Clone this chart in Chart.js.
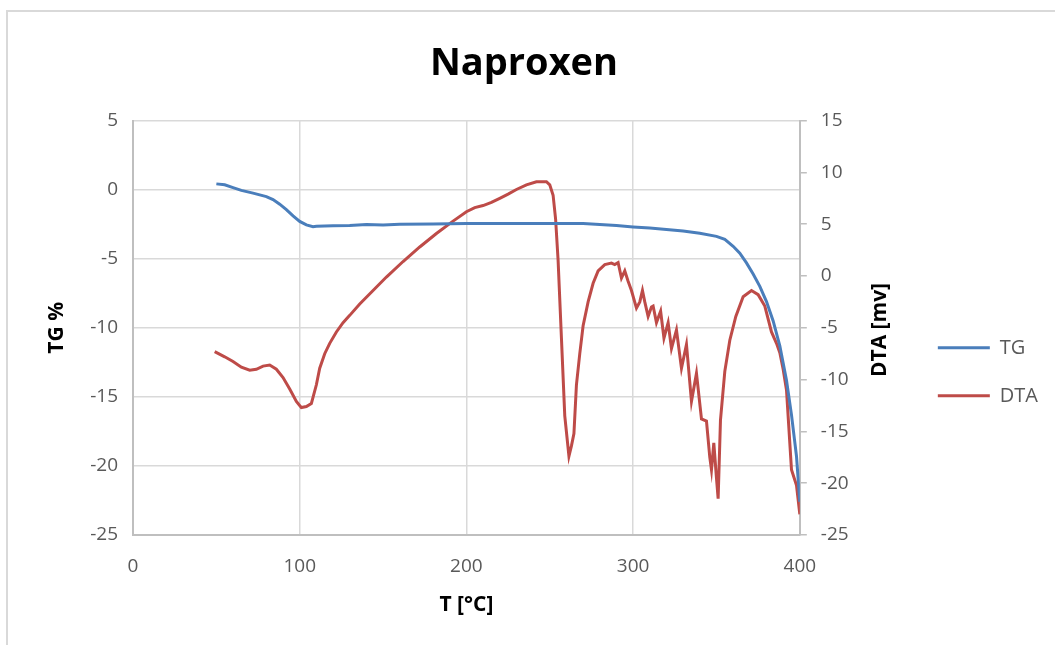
<!DOCTYPE html>
<html>
<head>
<meta charset="utf-8">
<script src="https://cdn.jsdelivr.net/npm/chart.js@4.4.1/dist/chart.umd.min.js"></script>
<style>
  html, body { margin: 0; padding: 0; background: #fff; overflow: hidden; }
  #wrap { position: relative; width: 1055px; height: 645px; }
  #frame { position: absolute; left: 6px; top: 10px; width: 1200px; height: 800px;
           border-left: 2px solid #d9d9d9; border-top: 2px solid #d9d9d9; pointer-events: none; }
</style>
</head>
<body>
<div id="wrap">
  <canvas id="chart"></canvas>
  <div id="frame"></div>
</div>
<script>
// TG curve (left axis, %)
const tgTemp = [50, 55, 60, 65, 72, 80, 84, 88, 92, 96, 100, 104, 108, 110, 120, 130, 140, 150, 160, 180, 200, 220, 250, 270, 280, 290, 300, 310, 320, 330, 340, 350, 355, 360, 364, 368, 372, 376, 380, 384, 388, 392, 395, 398, 400];
const tgValue = [0.42, 0.35, 0.15, -0.05, -0.25, -0.5, -0.72, -1.05, -1.45, -1.9, -2.3, -2.55, -2.68, -2.65, -2.62, -2.6, -2.52, -2.55, -2.5, -2.48, -2.45, -2.45, -2.45, -2.45, -2.52, -2.6, -2.7, -2.78, -2.88, -3.0, -3.15, -3.38, -3.6, -4.1, -4.6, -5.3, -6.1, -7.0, -8.1, -9.5, -11.3, -13.8, -16.3, -19.3, -22.6];

// DTA curve (right axis, mV)
const dtaTemp = [49, 55, 60, 65, 70, 74, 78, 82, 86, 90, 94, 98, 101, 104, 107, 110, 112, 115, 118, 122, 126, 130, 136, 144, 152, 162, 172, 182, 192, 200, 205, 210, 215, 220, 225, 230, 236, 242, 248, 250, 252, 253.5, 255, 257, 259, 261.5, 263, 264.5, 266, 268, 270, 273, 276, 279, 283, 287, 289, 291, 293, 295, 297, 299, 302, 304, 305.6, 307, 309, 311, 312, 314, 316.5, 318.5, 321, 323, 326, 329, 332, 335, 338, 341, 344, 346, 347, 348.4, 350, 351, 352.4, 355, 358, 361.6, 366, 371, 375, 379, 383, 386, 388, 390, 392, 395, 398, 400];
const dtaValue = [-7.3, -7.8, -8.25, -8.8, -9.1, -9.0, -8.7, -8.6, -9.0, -9.8, -10.9, -12.1, -12.7, -12.6, -12.3, -10.5, -8.9, -7.5, -6.5, -5.4, -4.5, -3.8, -2.7, -1.4, -0.1, 1.4, 2.8, 4.1, 5.3, 6.2, 6.6, 6.8, 7.1, 7.5, 7.9, 8.35, 8.8, 9.1, 9.1, 8.8, 7.8, 5.5, 1.5, -6.0, -13.5, -17.4, -16.4, -15.2, -10.5, -7.5, -4.8, -2.5, -0.7, 0.5, 1.1, 1.25, 1.1, 1.3, -0.2, 0.5, -0.5, -1.4, -3.1, -2.5, -1.4, -2.5, -3.9, -3.0, -2.9, -4.5, -3.4, -6.0, -4.5, -7.0, -5.2, -8.9, -6.6, -12.1, -9.4, -13.8, -14.0, -17.5, -18.7, -16.1, -19.5, -21.5, -13.9, -9.2, -6.2, -3.9, -2.0, -1.4, -1.8, -2.9, -5.4, -6.5, -7.4, -9.0, -11.0, -18.7, -20.2, -23.0];

const xTicks = [0, 100, 200, 300, 400];

const tickColor = '#595959';
const gridColor = '#d9d9d9';
const axisColor = '#bfbfbf';
const fontFamily = '"Open Sans", "DejaVu Sans", sans-serif';

// right axis title reads bottom-to-top like the left one
const rightTitle = {
  id: 'rightTitle',
  afterDraw(chart) {
    const ctx = chart.ctx;
    ctx.save();
    ctx.translate(880, 330);
    ctx.rotate(-Math.PI / 2);
    ctx.font = 'bold 21px ' + fontFamily;
    ctx.fillStyle = '#000';
    ctx.textAlign = 'center';
    ctx.textBaseline = 'middle';
    ctx.fillText('DTA [mv]', 0, 0);
    ctx.restore();
  }
};

const ctx = document.getElementById('chart').getContext('2d');
new Chart(ctx, {
  type: 'line',
  data: {
    datasets: [
      {
        label: 'TG',
        data: tgTemp.map((t, i) => ({ x: t, y: tgValue[i] })),
        borderColor: '#4a7ebb',
        backgroundColor: '#4a7ebb',
        borderWidth: 3,
        pointRadius: 0,
        tension: 0,
        yAxisID: 'y'
      },
      {
        label: 'DTA',
        data: dtaTemp.map((t, i) => ({ x: t, y: dtaValue[i] })),
        borderColor: '#be4b48',
        backgroundColor: '#be4b48',
        borderWidth: 3,
        pointRadius: 0,
        tension: 0,
        yAxisID: 'y1'
      }
    ]
  },
  options: {
    responsive: true,
    maintainAspectRatio: false,
    animation: false,
    layout: { padding: { top: 0, left: 0, right: 7, bottom: 0 } },
    plugins: {
      tooltip: { enabled: false },
      title: {
        display: true,
        text: 'Naproxen',
        color: '#000',
        font: { family: fontFamily, size: 38, weight: 'bold' },
        padding: { top: 41, bottom: 34 }
      },
      legend: {
        position: 'right',
        fullSize: false,
        title: { display: true, text: ' ', font: { size: 10 }, padding: { top: 38, bottom: 38 } },
        labels: {
          boxWidth: 52,
          boxHeight: 3,
          padding: 28,
          color: tickColor,
          font: { family: fontFamily, size: 20 },
          generateLabels(chart) {
            return Chart.defaults.plugins.legend.labels.generateLabels(chart).map(l => ({ ...l, lineWidth: 0, fillStyle: l.strokeStyle }));
          }
        }
      }
    },
    scales: {
      x: {
        type: 'linear',
        min: 0,
        max: 400,
        afterBuildTicks: s => { s.ticks = xTicks.map(v => ({ value: v })); },
        afterFit: s => { s.height = 110; },
        ticks: { color: tickColor, font: { family: fontFamily, size: 19 }, padding: 20, maxRotation: 0 },
        grid: { color: gridColor, lineWidth: 1.5, drawTicks: false },
        border: { color: axisColor, width: 2 },
        title: { display: true, text: 'T [°C]', color: '#000', font: { family: fontFamily, size: 21, weight: 'bold' }, padding: { top: 0, bottom: 27 } }
      },
      y: {
        position: 'left',
        min: -25,
        max: 5,
        ticks: { stepSize: 5, color: tickColor, font: { family: fontFamily, size: 19 }, padding: 15 },
        afterFit: s => { s.width = 133; },
        grid: { color: gridColor, lineWidth: 1.5, drawTicks: false },
        border: { color: axisColor, width: 2 },
        title: { display: true, text: 'TG %', color: '#000', font: { family: fontFamily, size: 21, weight: 'bold' }, padding: { top: 44, bottom: 0 } }
      },
      y1: {
        position: 'right',
        min: -25,
        max: 15,
        ticks: { stepSize: 5, color: tickColor, font: { family: fontFamily, size: 19 }, padding: 14 },
        afterFit: s => { s.width = 110; },
        grid: { drawOnChartArea: false, color: axisColor, lineWidth: 1.5, tickLength: 7 },
        border: { color: axisColor, width: 2 }
      }
    }
  },
  plugins: [rightTitle]
});
</script>
</body>
</html>
